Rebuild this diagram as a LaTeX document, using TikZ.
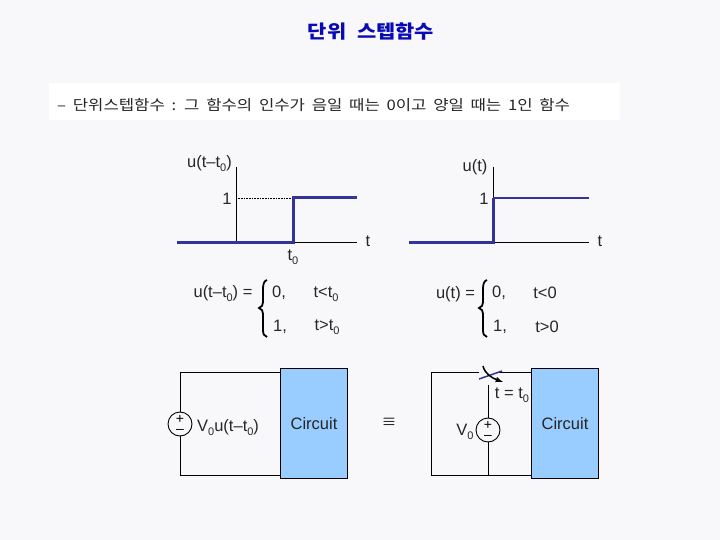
\documentclass[tikz,border=0pt]{standalone}
\usepackage{fontspec}
\setmainfont{Liberation Sans}
\newfontfamily\korfont[WordSpace=1.8,FakeStretch=1.15]{Noto Sans CJK KR}
\newfontfamily\titlefont[WordSpace=2.3,FakeStretch=1.13]{Noto Sans CJK KR}
\usepackage{tikz}
\usetikzlibrary{positioning}

\definecolor{pagebg}{HTML}{F8F8FA}
\definecolor{titleblue}{HTML}{0A0AB4}
\definecolor{stepblue}{HTML}{333399}
\definecolor{boxblue}{HTML}{99CCFF}

\newcommand{\zsub}[1]{\raisebox{-0.45ex}{\fontsize{11}{11}\selectfont #1}}

\tikzset{
    lbl/.style={inner sep=0pt, font=\fontsize{16.5}{17}\selectfont, text=black!85},
    wire/.style={draw=black, line width=0.9pt},
    stepline/.style={draw=stepblue, line width=3pt},
    stepthin/.style={draw=stepblue, line width=2pt},
    circuitbox/.style={draw=black, line width=0.9pt, fill=boxblue, minimum width=67pt, minimum height=110pt, inner sep=0pt},
    srcnode/.style={draw=black, line width=0.9pt, circle, fill=pagebg, minimum size=24pt, inner sep=0pt,
        align=center, font=\fontsize{14}{10}\selectfont},
    bracepath/.style={draw=black, line width=1.8pt}
}

\begin{document}
\begin{tikzpicture}[x=1pt, y=-1pt]
\useasboundingbox (0,0) rectangle (720,540);
\fill[pagebg] (0,0) rectangle (720,540);
\fill[white] (49,83) rectangle (620,120);

\node[inner sep=0pt, text=titleblue, font=\titlefont\bfseries\fontsize{18.5}{20}\selectfont] (title) at (371,32) {단위 스텝함수};
\node[inner sep=0pt, anchor=west, text=black!85, font=\korfont\fontsize{14.5}{16}\selectfont] (defline) at (57,105) {– 단위스텝함수 : 그 함수의 인수가 음일 때는 0이고 양일 때는 1인 함수};

% left graph
\coordinate (ltop) at (236,167);
\coordinate (lorg) at (236,242);
\coordinate (lstart) at (177,242);
\coordinate (lend) at (357,242);
\coordinate (lstep) at (293,242);
\coordinate (lhigh) at (293,198);
\coordinate (lhighend) at (357,198);
\coordinate (lone) at (236,198);
\draw[wire] (ltop) -- (lorg);
\draw[wire] (lorg) -- (lend);
\draw[black, densely dotted, line width=0.6pt] (lone) -- (lhigh);
\draw[stepline] (lstart) -- (lstep) -- (lhigh) -- (lhighend);
\node[lbl] (lname) at (209.5,164) {u(t–t\zsub{0})};
\node[lbl] (lonelbl) at (227,199) {1};
\node[lbl] (ltlbl) at (368,241) {t};
\node[lbl] (lt0lbl) at (293,257) {t\zsub{0}};

% right graph
\coordinate (rtop) at (493,167);
\coordinate (rorg) at (493,242);
\coordinate (rstart) at (409,242);
\coordinate (rend) at (589,242);
\coordinate (rhigh) at (493,198);
\coordinate (rhighend) at (589,198);
\draw[wire] (rtop) -- (rorg);
\draw[wire] (rorg) -- (rend);
\draw[stepline] (rstart) -- (rorg) -- (rhigh);
\draw[stepthin] (rhigh) -- (rhighend);
\node[lbl] (rname) at (475,167) {u(t)};
\node[lbl] (ronelbl) at (484,199) {1};
\node[lbl] (rtlbl) at (600,241) {t};

% piecewise equations
\node[lbl] (leq) at (223,294) {u(t–t\zsub{0}) =};
\node[lbl] (lzero) at (279,293) {0,};
\node[lbl] (lcondA) at (326,294) {t<t\zsub{0}};
\node[lbl] (lunit) at (280,327) {1,};
\node[lbl] (lcondB) at (327,327) {t>t\zsub{0}};
\node[lbl] (req) at (455.5,294) {u(t) =};
\node[lbl] (rzero) at (499,293) {0,};
\node[lbl] (rcondA) at (545,293) {t<0};
\node[lbl] (runit) at (500,327) {1,};
\node[lbl] (rcondB) at (547,327) {t>0};

\foreach \bx in {263,483} {
    \draw[bracepath] (\bx+4,280) .. controls (\bx+1,281) and (\bx,284) .. (\bx,289) -- (\bx,302)
        .. controls (\bx,305) and (\bx-1,307) .. (\bx-4,308) .. controls (\bx-1,309) and (\bx,311) .. (\bx,314)
        -- (\bx,330) .. controls (\bx,334) and (\bx+1,336) .. (\bx+4,337);
}

% left circuit
\node[circuitbox] (lbox) at (313.5,423) {};
\node[lbl] (lboxlbl) at (314,424) {Circuit};
\node[srcnode] (lsrc) at (180,424) {+\\–};
\coordinate (lcornerA) at (180,372);
\coordinate (lcornerB) at (180,475);
\draw[wire] (lsrc) -- (lcornerA) -- (lcornerA -| lbox.west);
\draw[wire] (lsrc) -- (lcornerB) -- (lcornerB -| lbox.west);
\node[lbl, anchor=west] (lsrclbl) at (197,428) {V\zsub{0}u(t–t\zsub{0})};
\node[inner sep=0pt, font=\fontsize{14}{14}\selectfont\boldmath] (equiv) at (389,421.5) {$\equiv$};

% right circuit
\node[circuitbox] (rbox) at (565,423) {};
\node[lbl] (rboxlbl) at (565,424) {Circuit};
\node[srcnode] (rsrc) at (488,430) {+\\–};
\coordinate (rcornerA) at (431,372);
\coordinate (rcornerB) at (431,475);
\coordinate (swA) at (479,372);
\coordinate (swB) at (496,372);
\coordinate (swC) at (488,385);
\coordinate (swD) at (488,475);
\draw[wire] (swA) -- (rcornerA) -- (rcornerB) -- (rcornerB -| rbox.west);
\draw[wire] (swB) -- (swB -| rbox.west);
\draw[wire] (rsrc) -- (swC);
\draw[wire] (rsrc) -- (swD);
\coordinate (bladeA) at (479,379);
\coordinate (bladeB) at (502,371);
\coordinate (swingA) at (483,366);
\coordinate (swingB) at (503,382);
\draw[stepblue, line width=1.5pt] (bladeA) -- (bladeB);
\draw[black, line width=1.5pt, -latex] (swingA) .. controls (485,374) and (492,378) .. (swingB);
\node[lbl] (swlbl) at (512,395) {t = t\zsub{0}};
\node[lbl] (rsrclbl) at (465,432) {V\zsub{0}};
\end{tikzpicture}
\end{document}
